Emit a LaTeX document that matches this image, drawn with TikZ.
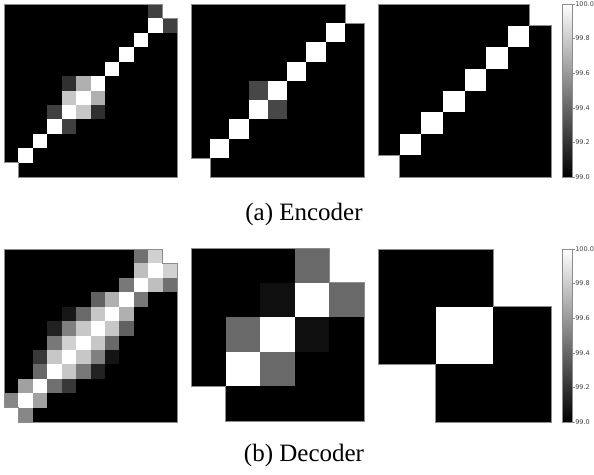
\documentclass[tikz,border=0pt]{standalone}
\usepackage{fontspec}
\setmainfont{Liberation Serif}
\newfontfamily\tickfont{DejaVu Sans}
\usepackage{tikz}
\usetikzlibrary{calc}
\tikzset{cellfill/.style={fill=white!#1!black}}
\tikzset{mapedge/.style={draw=black!45, line width=0.5pt}}
\tikzset{ticklabel/.style={anchor=west, inner sep=0.6pt, text=black!75, font=\tickfont\fontsize{6.5}{7}\selectfont}}
\tikzset{caption/.style={anchor=base, inner sep=0, font=\fontsize{25}{30}\selectfont}}

% #1 left, #2 top, #3 cells per side, #4 row/col/value of the grey cells
\newcommand{\attnmap}[4]{%
  \pgfmathsetmacro{\cs}{173/#3}
  \pgfmathtruncatemacro{\lastdiag}{#3-2}
  \fill [black] (#1,#2) -- ++({173-\cs},0) -- ++(0,\cs) -- ++(\cs,0) -- ++(0,{173-\cs})
    -- ++({\cs-173},0) -- ++(0,-\cs) -- ++(-\cs,0) -- cycle;
  \foreach \row in {1,...,\lastdiag} {
    \pgfmathtruncatemacro{\col}{#3-1-\row}
    \fill [white] ({#1+\col*\cs},{#2+\row*\cs}) rectangle ++(\cs,\cs);
  }
  \foreach \row/\col/\val in {#4} {
    \fill [cellfill=\val] ({#1+\col*\cs},{#2+\row*\cs}) rectangle ++(\cs,\cs);
  }
  \draw [mapedge] (#1,#2) -- ++({173-\cs},0) -- ++(0,\cs) -- ++(\cs,0) -- ++(0,{173-\cs})
    -- ++({\cs-173},0) -- ++(0,-\cs) -- ++(-\cs,0) -- cycle;
}

% #1 top, #2 name of the bar
\newcommand{\colbar}[2]{%
  \shade [top color=white, bottom color=black] (562,#1) rectangle (572,{#1+173});
  \draw [mapedge] (562,#1) rectangle (572,{#1+173});
  \foreach \k/\lab in {0/100.0, 1/99.8, 2/99.6, 3/99.4, 4/99.2, 5/99.0} {
    \draw [mapedge] (572,{#1+\k*34.6}) -- (574.5,{#1+\k*34.6})
      node [ticklabel] (#2\k) {\lab};
  }
}

\begin{document}
\begin{tikzpicture}[x=1pt, y=-1pt]
\useasboundingbox (0,0) rectangle (594,474);

% encoder
\attnmap{4}{4}{12}{7/3/25, 8/4/25, 7/5/78, 6/4/78, 7/6/19, 5/4/19, 6/6/69, 5/5/69, 1/11/25, 0/10/25}
\attnmap{191}{4}{9}{4/3/28, 5/4/28}
\attnmap{378}{4}{8}{1/6/100}
\colbar{4}{topbar}
\node [caption] (capA) at (304,220) {(a) Encoder};

% decoder
\attnmap{4}{249}{12}{0/9/44, 0/10/82,
  1/9/75, 1/11/82,
  2/8/47, 2/10/75, 2/11/44,
  3/6/38, 3/7/69, 3/9/47,
  4/4/9, 4/5/41, 4/6/78, 4/8/69,
  5/3/13, 5/4/50, 5/5/78, 5/7/78, 5/8/38,
  6/3/47, 6/4/82, 6/6/78, 6/7/41,
  7/2/22, 7/3/78, 7/5/78, 7/6/50, 7/7/8,
  8/2/41, 8/4/78, 8/5/47, 8/6/13,
  9/1/63, 9/3/44, 9/4/22,
  10/0/53, 10/2/63,
  11/1/53}
\attnmap{191}{248}{5}{0/3/41, 1/2/6, 1/4/41, 2/1/41, 2/3/6, 3/2/41}
\attnmap{378}{249}{3}{1/1/100}
\colbar{249}{botbar}
\node [caption] (capB) at (304,461) {(b) Decoder};
\end{tikzpicture}
\end{document}
